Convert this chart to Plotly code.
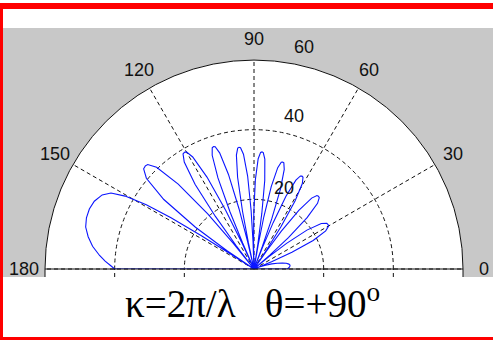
import math
import plotly.graph_objects as go

# ---- radiation pattern, read lobe by lobe (angle in degrees, radius) ----
lobe11_theta = [0, 0, 2, 4, 6, 8, 10, 12, 14, 16, 18, 20, 21.6]
lobe11_r = [0, 9.6, 10.0, 10.3, 10.4, 10.1, 9.4, 8.3, 6.9, 5.3, 3.5, 1.6, 0]

lobe10_theta = [22.54, 23.86, 25.74, 27.99, 29.87, 31, 32.14, 34.04, 36.32, 38.22, 39.55, 40.5]
lobe10_r = [5.46, 11.90, 18.85, 23.31, 24.68, 24.8, 24.68, 23.31, 18.85, 11.90, 5.46, 0]

lobe9_theta = [41.3, 42.42, 44.02, 45.94, 47.54, 48.5, 49.39, 50.87, 52.64, 54.12, 55.16, 55.9]
lobe9_r = [6.14, 13.39, 21.20, 26.23, 27.76, 27.9, 27.76, 26.23, 21.20, 13.39, 6.14, 0]

lobe8_theta = [56.58, 57.53, 58.89, 60.52, 61.88, 62.7, 63.47, 64.75, 66.28, 67.56, 68.46, 69.1]
lobe8_r = [6.6, 14.4, 22.8, 28.2, 29.85, 30.0, 29.85, 28.2, 22.8, 14.4, 6.6, 0]

lobe7_theta = [69.69, 70.52, 71.70, 73.11, 74.29, 75.0, 75.68, 76.82, 78.19, 79.33, 80.13, 80.7]
lobe7_r = [7.0, 15.26, 24.17, 29.89, 31.64, 31.8, 31.64, 29.89, 24.17, 15.26, 7.0, 0]

lobe6_theta = [81.24, 82.0, 83.08, 84.37, 85.45, 86.1, 86.75, 87.83, 89.12, 90.20, 90.96, 91.5]
lobe6_r = [7.41, 16.18, 25.61, 31.68, 33.53, 33.7, 33.53, 31.68, 25.61, 16.18, 7.41, 0]

lobe5_theta = [92.05, 92.82, 93.92, 95.24, 96.34, 97.0, 97.67, 98.79, 100.14, 101.26, 102.04, 102.6]
lobe5_r = [7.74, 16.90, 26.75, 33.09, 35.02, 35.2, 35.02, 33.09, 26.75, 16.90, 7.74, 0]

lobe4_theta = [103.17, 103.97, 105.11, 106.48, 107.62, 108.3, 109.01, 110.19, 111.60, 112.78, 113.61, 114.2]
lobe4_r = [8.14, 17.76, 28.12, 34.78, 36.82, 37.0, 36.82, 34.78, 28.12, 17.76, 8.14, 0]

lobe3_theta = [114.86, 115.78, 117.10, 118.69, 120.01, 120.8, 121.66, 123.10, 124.83, 126.27, 127.28, 128.0]
lobe3_r = [8.58, 18.72, 29.64, 36.66, 38.81, 39.0, 38.81, 36.66, 29.64, 18.72, 8.58, 0]

lobe2_theta = [128.85, 130.04, 131.74, 133.78, 135.48, 136.5, 137.76, 139.86, 142.38, 144.48, 145.95, 147.0]
lobe2_r = [9.46, 20.64, 32.68, 40.42, 42.79, 43.0, 42.79, 40.42, 32.68, 20.64, 9.46, 0]

main_theta = [147.3, 147.7, 148.3, 149.2, 150.5, 152, 154, 157, 160, 163, 166, 169, 172,
              175, 177, 178.5, 180, 180]
main_r = [8, 18, 28, 36, 42.5, 46.5, 48.5, 49.8, 50.3, 50.3, 49.8, 48.5, 46.8,
          44.5, 42.8, 41.3, 40, 0]

# ---- axes ----
angle_ticks = [0, 30, 60, 90, 120, 150, 180]
radial_ticks = [20, 40, 60]
r_max = 60

theta = (lobe11_theta + lobe10_theta + lobe9_theta + lobe8_theta + lobe7_theta + lobe6_theta
         + lobe5_theta + lobe4_theta + lobe3_theta + lobe2_theta + main_theta)
r = (lobe11_r + lobe10_r + lobe9_r + lobe8_r + lobe7_r + lobe6_r
     + lobe5_r + lobe4_r + lobe3_r + lobe2_r + main_r)

W, H = 493, 340
CX, CY, RPX = 254, 269, 209          # polar centre and outer radius in pixels
px = RPX / r_max
dash = "4px,3px"


def px_x(x):
    return x / W


def px_y(y):
    return 1 - y / H


def polar_to_paper(rv, ang):
    a = math.radians(ang)
    return px_x(CX + rv * px * math.cos(a)), px_y(CY - rv * px * math.sin(a))


fig = go.Figure()

fig.add_trace(go.Scatterpolar(
    r=r, theta=theta, mode="lines",
    line=dict(color="#0a14ff", width=1.1),
    hoverinfo="skip", showlegend=False,
))

label_font = dict(family="Liberation Sans, Arial, sans-serif", size=18, color="#111111")
annotations = []

# angle labels sit just outside the rim
for a in angle_ticks:
    x, y = polar_to_paper(1.1 * r_max, a)
    annotations.append(dict(text=str(a), x=x, y=y, xref="paper", yref="paper",
                            xanchor="center", yanchor="middle", showarrow=False,
                            font=label_font))

# radial labels placed along a ray near 80 degrees
radial_label_pos = {20: (24.9, 69.7), 40: (45.4, 75.2), 60: (65.4, 77.3)}
for v in radial_ticks:
    x, y = polar_to_paper(*radial_label_pos[v])
    annotations.append(dict(text=str(v), x=x, y=y, xref="paper", yref="paper",
                            xanchor="center", yanchor="middle", showarrow=False,
                            font=label_font))

annotations.append(dict(
    text="κ=2π/λ\u00a0\u00a0\u00a0θ=+90<sup>o</sup>",
    xref="paper", yref="paper", x=px_x(252), y=px_y(301),
    xanchor="center", yanchor="middle", showarrow=False,
    font=dict(family="Liberation Serif", size=39, color="black"),
))

shapes = [
    # grey figure background
    dict(type="rect", xref="paper", yref="paper", layer="below",
         x0=px_x(3), x1=1, y0=px_y(277), y1=px_y(28),
         fillcolor="#c8c8c8", line=dict(width=0)),
    # white strip under the baseline
    dict(type="rect", xref="paper", yref="paper", layer="below",
         x0=px_x(CX - RPX), x1=px_x(CX + RPX), y0=px_y(277), y1=px_y(CY),
         fillcolor="white", line=dict(width=0)),
]
# grid circles spill a little below the baseline
for v in radial_ticks:
    for s in (-1, 1):
        xx = px_x(CX + s * v * px)
        shapes.append(dict(type="line", xref="paper", yref="paper", layer="below",
                           x0=xx, x1=xx, y0=px_y(277), y1=px_y(CY),
                           line=dict(color="#111111", width=1,
                                     dash=None if v == r_max else dash)))
# red frame
shapes += [
    dict(type="rect", xref="paper", yref="paper", layer="above",
         x0=0, x1=1, y0=px_y(9), y1=px_y(3), fillcolor="#ff0000", line=dict(width=0)),
    dict(type="rect", xref="paper", yref="paper", layer="above",
         x0=0, x1=px_x(3), y0=0, y1=px_y(3), fillcolor="#ff0000", line=dict(width=0)),
    dict(type="rect", xref="paper", yref="paper", layer="above",
         x0=0, x1=1, y0=0, y1=px_y(337), fillcolor="#ff0000", line=dict(width=0)),
]

fig.update_layout(
    width=W, height=H, autosize=False,
    margin=dict(l=0, r=0, t=0, b=0, pad=0),
    paper_bgcolor="white",
    showlegend=False,
    shapes=shapes,
    annotations=annotations,
    polar=dict(
        domain=dict(x=[px_x(CX - RPX), px_x(CX + RPX)], y=[px_y(CY), px_y(CY - RPX)]),
        sector=[0, 180],
        bgcolor="white",
        radialaxis=dict(range=[0, r_max], tickvals=radial_ticks[:-1], showticklabels=False,
                        ticks="", showline=False, showgrid=True,
                        gridcolor="#111111", gridwidth=1, griddash=dash),
        angularaxis=dict(tickvals=angle_ticks, showticklabels=False, ticks="",
                         direction="counterclockwise", rotation=0,
                         showline=True, linecolor="#111111", linewidth=1,
                         showgrid=True, gridcolor="#111111", gridwidth=1, griddash=dash),
    ),
)

fig.write_html("out.html")
